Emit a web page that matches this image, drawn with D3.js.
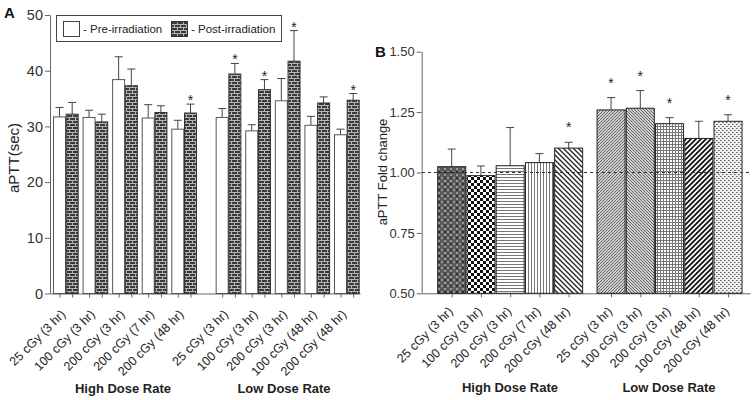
<!DOCTYPE html>
<html>
<head>
<meta charset="utf-8">
<script src="https://cdn.jsdelivr.net/npm/d3@7"></script>
<style>
  body { margin: 0; background: #fff; }
  svg { font-family: Arial, "Liberation Sans", sans-serif; }
  .axis path, .axis line { stroke: #666; }
  .axis text { fill: #333; font-size: 14.5px; }
  .axisB text { font-size: 13px; }
</style>
</head>
<body>
<script>
// categories (same doses for both panels)
var doses = ["25 cGy (3 hr)", "100 cGy (3 hr)", "200 cGy (3 hr)", "200 cGy (7 hr)", "200 cGy (48 hr)",
             "25 cGy (3 hr)", "100 cGy (3 hr)", "200 cGy (3 hr)", "100 cGy (48 hr)", "200 cGy (48 hr)"];
var rates = ["High Dose Rate", "Low Dose Rate"];

// panel A, aPTT seconds
var preMean  = [31.7, 31.6, 38.4, 31.5, 29.5, 31.6, 29.2, 34.6, 30.2, 28.5];
var preErr   = [1.7, 1.3, 4.1, 2.4, 1.6, 1.6, 1.1, 4.0, 1.6, 1.0];
var postMean = [32.2, 30.8, 37.3, 32.5, 32.4, 39.4, 36.6, 41.7, 34.2, 34.7];
var postErr  = [2.1, 1.4, 3.0, 1.2, 1.6, 1.9, 1.8, 5.5, 1.1, 1.2];
var postSig  = [0, 0, 0, 0, 1, 1, 1, 1, 0, 1];
var ticksA   = [0, 10, 20, 30, 40, 50];

// panel B, fold change
var foldMean = [1.024, 0.987, 1.028, 1.041, 1.101, 1.259, 1.266, 1.202, 1.141, 1.212];
var foldErr  = [0.073, 0.040, 0.158, 0.037, 0.024, 0.051, 0.073, 0.025, 0.071, 0.027];
var foldSig  = [0, 0, 0, 0, 1, 1, 1, 1, 0, 1];
var ticksB   = [0.50, 0.75, 1.00, 1.25, 1.50];

var w = 754, h = 400;

var svg = d3.select("body")
  .append("svg")
  .attr("width", w)
  .attr("height", h);

// ---- patterns
var defs = svg.append("defs");

function pat(id, size, bg) {
  var p = defs.append("pattern")
    .attr("id", id)
    .attr("patternUnits", "userSpaceOnUse")
    .attr("width", size).attr("height", size);
  p.append("rect").attr("width", size).attr("height", size).attr("fill", bg);
  return p;
}
function px(p, x, y, ww, hh, c) {
  p.append("rect").attr("x", x).attr("y", y).attr("width", ww).attr("height", hh).attr("fill", c);
}

// brick for post-irradiation
var brick = pat("brick", 6, "#3a3a3a");
px(brick, 0, 0, 6, 1, "#b5b5b5");
px(brick, 0, 3, 6, 1, "#b5b5b5");
px(brick, 0, 0, 1, 3, "#b5b5b5");
px(brick, 3, 3, 1, 3, "#b5b5b5");

// B patterns
var p0 = pat("p0", 6, "#5a5a5a");
px(p0, 0, 0, 2, 2, "#999");
px(p0, 3, 3, 2, 2, "#999");
px(p0, 0, 3, 2, 2, "#333");

var p1 = pat("p1", 6, "#fff");
px(p1, 0, 0, 3, 3, "#111");
px(p1, 3, 3, 3, 3, "#111");

var p2 = pat("p2", 3, "#fff");
px(p2, 0, 0, 3, 1, "#777");

var p3 = pat("p3", 3, "#fff");
px(p3, 0, 0, 1, 3, "#777");

function diag(id, size, bg, col, sw, dir) {
  var p = pat(id, size, bg);
  var d = dir > 0
    ? "M0," + size + "L" + size + ",0M-1,1L1,-1M" + (size - 1) + "," + (size + 1) + "L" + (size + 1) + "," + (size - 1)
    : "M0,0L" + size + "," + size + "M-1," + (size - 1) + "L1," + (size + 1) + "M" + (size - 1) + ",-1L" + (size + 1) + ",1";
  p.append("path").attr("d", d).attr("stroke", col).attr("stroke-width", sw);
}
diag("p4", 5, "#fff", "#222", 1.3, -1);
diag("p5", 3, "#d0d0d0", "#666", 1, 1);
diag("p6", 3, "#d0d0d0", "#666", 1, -1);

var p7 = pat("p7", 3, "#fff");
px(p7, 0, 0, 3, 1, "#777");
px(p7, 0, 0, 1, 3, "#777");

diag("p8", 5, "#fff", "#111", 1.8, 1);

var p9 = pat("p9", 4, "#eee");
px(p9, 0, 0, 1, 1, "#666");
px(p9, 2, 2, 1, 1, "#666");
px(p9, 1, 0, 1, 1, "#999");
px(p9, 3, 2, 1, 1, "#999");

var fillsB = ["url(#p0)", "url(#p1)", "url(#p2)", "url(#p3)", "url(#p4)",
              "url(#p5)", "url(#p6)", "url(#p7)", "url(#p8)", "url(#p9)"];

// slot position with a half gap between the two dose-rate groups
function slot(i, gap) { return i + (i >= 5 ? gap : 0); }

// error bars (upper only) drawn before bars so bars cover the stem
function errBar(g, cx, yTop, yBase) {
  g.append("line").attr("x1", cx).attr("x2", cx).attr("y1", yTop).attr("y2", yBase)
    .attr("stroke", "#444").attr("stroke-width", 1);
  g.append("line").attr("x1", cx - 4).attr("x2", cx + 4).attr("y1", yTop).attr("y2", yTop)
    .attr("stroke", "#444").attr("stroke-width", 1);
}

function star(g, x, y) {
  g.append("text")
    .attr("x", x).attr("y", y)
    .attr("text-anchor", "middle")
    .attr("font-size", "14px")
    .attr("fill", "#222")
    .text("*");
}

// ================= Panel A =================
var yA = d3.scaleLinear().domain([0, 50]).range([293.5, 15]);
var xA = d3.scaleLinear().domain([-0.06, 10.42]).range([50, 360]);
var barW = 12, pairOff = 12.7;

function preX(i) { return xA(slot(i, 0.5)) + 1.7; }
function postX(i) { return preX(i) + pairOff; }

var gA = svg.append("g");

var centersA = [];
doses.forEach(function(d, i) {
  centersA.push(xA.invert(preX(i) + barW / 2));
  centersA.push(xA.invert(postX(i) + barW / 2));
});

gA.append("g")
  .attr("class", "axis")
  .attr("transform", "translate(0," + yA(0) + ")")
  .call(d3.axisBottom(xA).tickValues(centersA).tickFormat("").tickSize(4).tickSizeOuter(0));

gA.append("g")
  .attr("class", "axis")
  .attr("transform", "translate(50,0)")
  .call(d3.axisLeft(yA).tickValues(ticksA).tickSize(5).tickPadding(2).tickSizeOuter(0));

doses.forEach(function(d, i) {
  errBar(gA, preX(i) + barW / 2, yA(preMean[i] + preErr[i]), yA(preMean[i]));
  errBar(gA, postX(i) + barW / 2, yA(postMean[i] + postErr[i]), yA(postMean[i]));
});

gA.selectAll("rect.pre")
  .data(preMean)
  .enter()
  .append("rect")
  .attr("class", "pre")
  .attr("x", function(d, i) { return preX(i); })
  .attr("y", function(d) { return yA(d); })
  .attr("width", barW)
  .attr("height", function(d) { return yA(0) - yA(d); })
  .attr("fill", "#fff")
  .attr("stroke", "#555");

gA.selectAll("rect.post")
  .data(postMean)
  .enter()
  .append("rect")
  .attr("class", "post")
  .attr("x", function(d, i) { return postX(i); })
  .attr("y", function(d) { return yA(d); })
  .attr("width", barW)
  .attr("height", function(d) { return yA(0) - yA(d); })
  .attr("fill", "url(#brick)")
  .attr("stroke", "#333");

postMean.forEach(function(d, i) {
  if (postSig[i]) star(gA, postX(i) + barW / 2, yA(d + postErr[i]) + 1);
});

// x labels, one per dose pair
doses.forEach(function(d, i) {
  var cx = preX(i) + pairOff;
  gA.append("text")
    .attr("transform", "translate(" + cx + ",315) rotate(-45)")
    .attr("text-anchor", "end")
    .attr("font-size", "12.5px")
    .attr("fill", "#222")
    .text(d);
});

gA.append("text").attr("x", 123).attr("y", 393).attr("text-anchor", "middle")
  .attr("font-size", "13px").attr("font-weight", "bold").attr("fill", "#222").text(rates[0]);
gA.append("text").attr("x", 284).attr("y", 393).attr("text-anchor", "middle")
  .attr("font-size", "13px").attr("font-weight", "bold").attr("fill", "#222").text(rates[1]);

gA.append("text")
  .attr("transform", "translate(19,158) rotate(-90)")
  .attr("text-anchor", "middle")
  .attr("font-size", "15px")
  .attr("fill", "#222")
  .text("aPTT(sec)");

gA.append("text").attr("x", 4).attr("y", 18).attr("font-size", "15px")
  .attr("font-weight", "bold").attr("fill", "#111").text("A");

// legend
var leg = gA.append("g");
leg.append("rect").attr("x", 56.5).attr("y", 15.5).attr("width", 225).attr("height", 26)
  .attr("fill", "#fff").attr("stroke", "#444");
leg.append("rect").attr("x", 63.5).attr("y", 21.5).attr("width", 16).attr("height", 15)
  .attr("fill", "#fff").attr("stroke", "#444");
leg.append("text").attr("x", 83).attr("y", 33).attr("font-size", "11.5px").attr("fill", "#222")
  .text("- Pre-irradiation");
leg.append("rect").attr("x", 171.5).attr("y", 21.5).attr("width", 16).attr("height", 15)
  .attr("fill", "url(#brick)").attr("stroke", "#333");
leg.append("text").attr("x", 191).attr("y", 33).attr("font-size", "11.5px").attr("fill", "#222")
  .text("- Post-irradiation");

// ================= Panel B =================
var yB = d3.scaleLinear().domain([0.5, 1.5]).range([293.3, 51.7]);
var xB = d3.scaleLinear().domain([-0.547, 10.68]).range([421.7, 750]);
var barWB = 28;

function bX(i) { return xB(slot(i, 0.45)); }

var gB = svg.append("g");

gB.append("g")
  .attr("class", "axis")
  .attr("transform", "translate(0," + yB(0.5) + ")")
  .call(d3.axisBottom(xB)
    .tickValues(doses.map(function(d, i) { return xB.invert(bX(i) + barWB / 2); }))
    .tickFormat("").tickSize(4).tickSizeOuter(0));

gB.append("g")
  .attr("class", "axis axisB")
  .attr("transform", "translate(421.7,0)")
  .call(d3.axisLeft(yB).tickValues(ticksB).tickFormat(d3.format(".2f")).tickSize(5).tickPadding(2).tickSizeOuter(0));

foldMean.forEach(function(d, i) {
  errBar(gB, bX(i) + barWB / 2, yB(d + foldErr[i]), yB(d));
});

gB.selectAll("rect.fold")
  .data(foldMean)
  .enter()
  .append("rect")
  .attr("class", "fold")
  .attr("x", function(d, i) { return bX(i); })
  .attr("y", function(d) { return yB(d); })
  .attr("width", barWB)
  .attr("height", function(d) { return yB(0.5) - yB(d); })
  .attr("fill", function(d, i) { return fillsB[i]; })
  .attr("stroke", "#222");

// reference line at 1.00
gB.append("line")
  .attr("x1", 422).attr("x2", 750)
  .attr("y1", yB(1)).attr("y2", yB(1))
  .attr("stroke", "#333").attr("stroke-dasharray", "3,3");

foldMean.forEach(function(d, i) {
  if (foldSig[i]) star(gB, bX(i) + barWB / 2, yB(d + foldErr[i]) - 10);
});

doses.forEach(function(d, i) {
  gB.append("text")
    .attr("transform", "translate(" + (bX(i) + barWB / 2 + 2) + ",312) rotate(-45)")
    .attr("text-anchor", "end")
    .attr("font-size", "12.5px")
    .attr("fill", "#222")
    .text(d);
});

gB.append("text").attr("x", 510).attr("y", 392).attr("text-anchor", "middle")
  .attr("font-size", "13px").attr("font-weight", "bold").attr("fill", "#222").text(rates[0]);
gB.append("text").attr("x", 669).attr("y", 392).attr("text-anchor", "middle")
  .attr("font-size", "13px").attr("font-weight", "bold").attr("fill", "#222").text(rates[1]);

gB.append("text")
  .attr("transform", "translate(387,172) rotate(-90)")
  .attr("text-anchor", "middle")
  .attr("font-size", "13px")
  .attr("fill", "#222")
  .text("aPTT Fold change");

gB.append("text").attr("x", 375).attr("y", 57).attr("font-size", "15px")
  .attr("font-weight", "bold").attr("fill", "#111").text("B");
</script>
</body>
</html>
